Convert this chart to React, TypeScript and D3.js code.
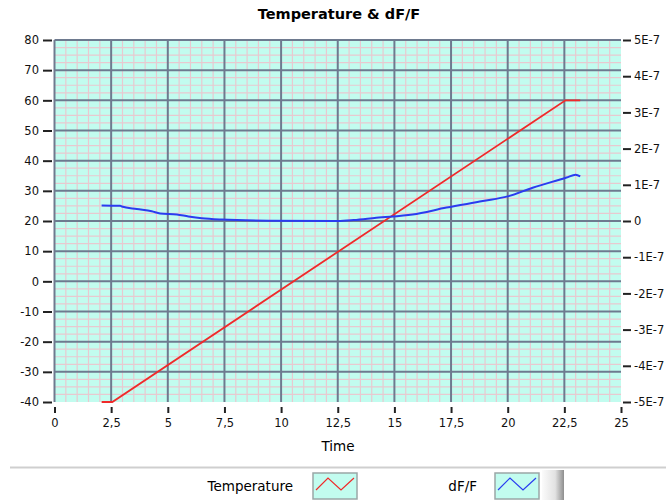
import React, { useRef, useEffect } from 'react';
import * as d3 from 'd3';

// Temperature (left axis, °C) against time
const tempTime = [2.08, 2.55, 22.55, 23.2];
const tempValues = [-40, -40, 60, 60];

// dF/F (right axis, in units of 1E-7) against time
const dfTime = [2.08, 2.9, 2.97, 3.63, 4.29, 4.66, 5.4, 5.91, 6.5, 7.38, 9.44, 12.5, 13.2, 14.2, 15.8, 17.3, 18.9, 20.0, 21.1, 22.6, 23.0, 23.2];
const dfValues = [0.43, 0.42, 0.4, 0.33, 0.27, 0.21, 0.18, 0.125, 0.075, 0.04, 0.01, 0.0, 0.025, 0.09, 0.18, 0.37, 0.55, 0.68, 0.92, 1.2, 1.28, 1.23];

const xTicks = [0, 2.5, 5, 7.5, 10, 12.5, 15, 17.5, 20, 22.5, 25];
const leftTicks = [-40, -30, -20, -10, 0, 10, 20, 30, 40, 50, 60, 70, 80];
const rightTicks = [-5, -4, -3, -2, -1, 0, 1, 2, 3, 4, 5];

const legendNames = ['Temperature', 'dF/F'];
const legendColors = ['#f02a2a', '#2a3cf0'];

const FONT = '"DejaVu Sans", Verdana, sans-serif';

const createChart = (svg: d3.Selection<SVGSVGElement, unknown, null, undefined>): void => {
    svg.selectAll('*').remove();

    const left = 54.5, right = 621, top = 40, bottom = 402;

    const x = d3.scaleLinear().domain([0, 25]).range([left, right]);
    const yL = d3.scaleLinear().domain([-40, 80]).range([bottom, top]);
    const yR = d3.scaleLinear().domain([-5e-7, 5e-7]).range([bottom, top]);

    // title
    svg.append('text')
        .attr('x', 339).attr('y', 19)
        .attr('text-anchor', 'middle')
        .attr('font-family', FONT).attr('font-weight', 'bold').attr('font-size', 14.5)
        .text('Temperature & dF/F');

    // plot background
    svg.append('rect')
        .attr('x', left).attr('y', top)
        .attr('width', right - left).attr('height', bottom - top)
        .attr('fill', '#c2fcef');

    const grid = svg.append('g');

    // minor grid (pink)
    const minorX = d3.range(0, 25.001, 0.5).filter(v => Math.abs(v / 2.5 - Math.round(v / 2.5)) > 1e-6);
    const minorY = d3.range(-40, 80.001, 2.5).filter(v => v % 10 !== 0);
    grid.selectAll('.mx').data(minorX).enter().append('line')
        .attr('x1', d => x(d)).attr('x2', d => x(d))
        .attr('y1', top).attr('y2', bottom)
        .attr('stroke', '#e8c9d0').attr('stroke-width', 1.2);
    grid.selectAll('.my').data(minorY).enter().append('line')
        .attr('x1', left).attr('x2', right)
        .attr('y1', d => yL(d)).attr('y2', d => yL(d))
        .attr('stroke', '#e8c9d0').attr('stroke-width', 1.2);

    // major grid
    grid.selectAll('.MX').data(xTicks.filter(d => d < 25)).enter().append('line')
        .attr('x1', d => x(d)).attr('x2', d => x(d))
        .attr('y1', top).attr('y2', bottom)
        .attr('stroke', '#6e7a8f').attr('stroke-width', 2);
    grid.selectAll('.MY').data(leftTicks.filter(d => d > -40)).enter().append('line')
        .attr('x1', left).attr('x2', right)
        .attr('y1', d => yL(d)).attr('y2', d => yL(d))
        .attr('stroke', '#6e7a8f').attr('stroke-width', 2);

    // series
    const tempLine = d3.line<number>()
        .x((_, i) => x(tempTime[i]))
        .y(d => yL(d));
    svg.append('path')
        .attr('d', tempLine(tempValues))
        .attr('fill', 'none').attr('stroke', legendColors[0]).attr('stroke-width', 1.8);

    const dfLine = d3.line<number>()
        .x((_, i) => x(dfTime[i]))
        .y(d => yR(d * 1e-7))
        .curve(d3.curveMonotoneX);
    svg.append('path')
        .attr('d', dfLine(dfValues))
        .attr('fill', 'none').attr('stroke', legendColors[1]).attr('stroke-width', 2);

    // axes
    const styleAxis = (g: d3.Selection<SVGGElement, unknown, null, undefined>) => {
        g.select('.domain').remove();
        g.selectAll('.tick line').attr('stroke', '#222').attr('stroke-width', 2);
        g.selectAll('.tick text').attr('fill', '#111').attr('font-family', FONT).attr('font-size', 11.5);
    };

    const yAxisL = svg.append('g')
        .attr('transform', 'translate(52,0)')
        .call(d3.axisLeft(yL).tickValues(leftTicks).tickSize(9).tickPadding(4)
            .tickFormat(d => String(d)));
    styleAxis(yAxisL);

    const yAxisR = svg.append('g')
        .attr('transform', 'translate(623,0)')
        .call(d3.axisRight(yR).tickValues(rightTicks.map(d => d * 1e-7)).tickSize(8).tickPadding(3)
            .tickFormat(d => {
                const v = Math.round((d as number) * 1e7);
                return v === 0 ? '0' : `${v}E-7`;
            }));
    styleAxis(yAxisR);

    const xAxis = svg.append('g')
        .attr('transform', 'translate(0,407)')
        .call(d3.axisBottom(x).tickValues(xTicks).tickSize(6).tickPadding(6)
            .tickFormat(d => String(d).replace('.', ',')));
    styleAxis(xAxis);

    svg.append('text')
        .attr('x', 338).attr('y', 451)
        .attr('text-anchor', 'middle')
        .attr('font-family', FONT).attr('font-size', 13.5)
        .text('Time');

    // legend
    svg.append('line')
        .attr('x1', 10).attr('x2', 666).attr('y1', 467.5).attr('y2', 467.5)
        .attr('stroke', '#cfcfcf').attr('stroke-width', 2);

    const legendTextX = [293, 477];
    const legendBoxX = [313, 495];
    legendNames.forEach((name, i) => {
        svg.append('text')
            .attr('x', legendTextX[i]).attr('y', 491)
            .attr('text-anchor', 'end')
            .attr('font-family', FONT).attr('font-size', 13.5)
            .text(name);
        const bx = legendBoxX[i];
        svg.append('rect')
            .attr('x', bx).attr('y', 473).attr('width', 44).attr('height', 26)
            .attr('fill', '#c2fcef').attr('stroke', '#9aa7a7').attr('stroke-width', 1.5);
        const zig = d3.line<[number, number]>();
        svg.append('path')
            .attr('d', zig([[bx + 3, 490], [bx + 15, 478], [bx + 28, 490], [bx + 41, 478]]))
            .attr('fill', 'none').attr('stroke', legendColors[i]).attr('stroke-width', 1.2);
    });

    const defs = svg.append('defs');
    const grad = defs.append('linearGradient').attr('id', 'btn').attr('x1', 0).attr('x2', 1).attr('y1', 0).attr('y2', 0);
    grad.append('stop').attr('offset', '0%').attr('stop-color', '#fbfbfb');
    grad.append('stop').attr('offset', '60%').attr('stop-color', '#e2e2e2');
    grad.append('stop').attr('offset', '100%').attr('stop-color', '#8e8e8e');
    svg.append('rect')
        .attr('x', 542).attr('y', 470).attr('width', 22).attr('height', 30)
        .attr('fill', 'url(#btn)');
};

const App: React.FC = () => {
    const ref = useRef<SVGSVGElement>(null);

    useEffect(() => {
        if (ref.current) {
            createChart(d3.select(ref.current));
        }
    }, []);

    return (
        <svg
            ref={ref}
            width={666}
            height={500}
            style={{ position: 'absolute', left: 0, top: 0, background: '#fff' }}
        />
    );
};

export default App;
